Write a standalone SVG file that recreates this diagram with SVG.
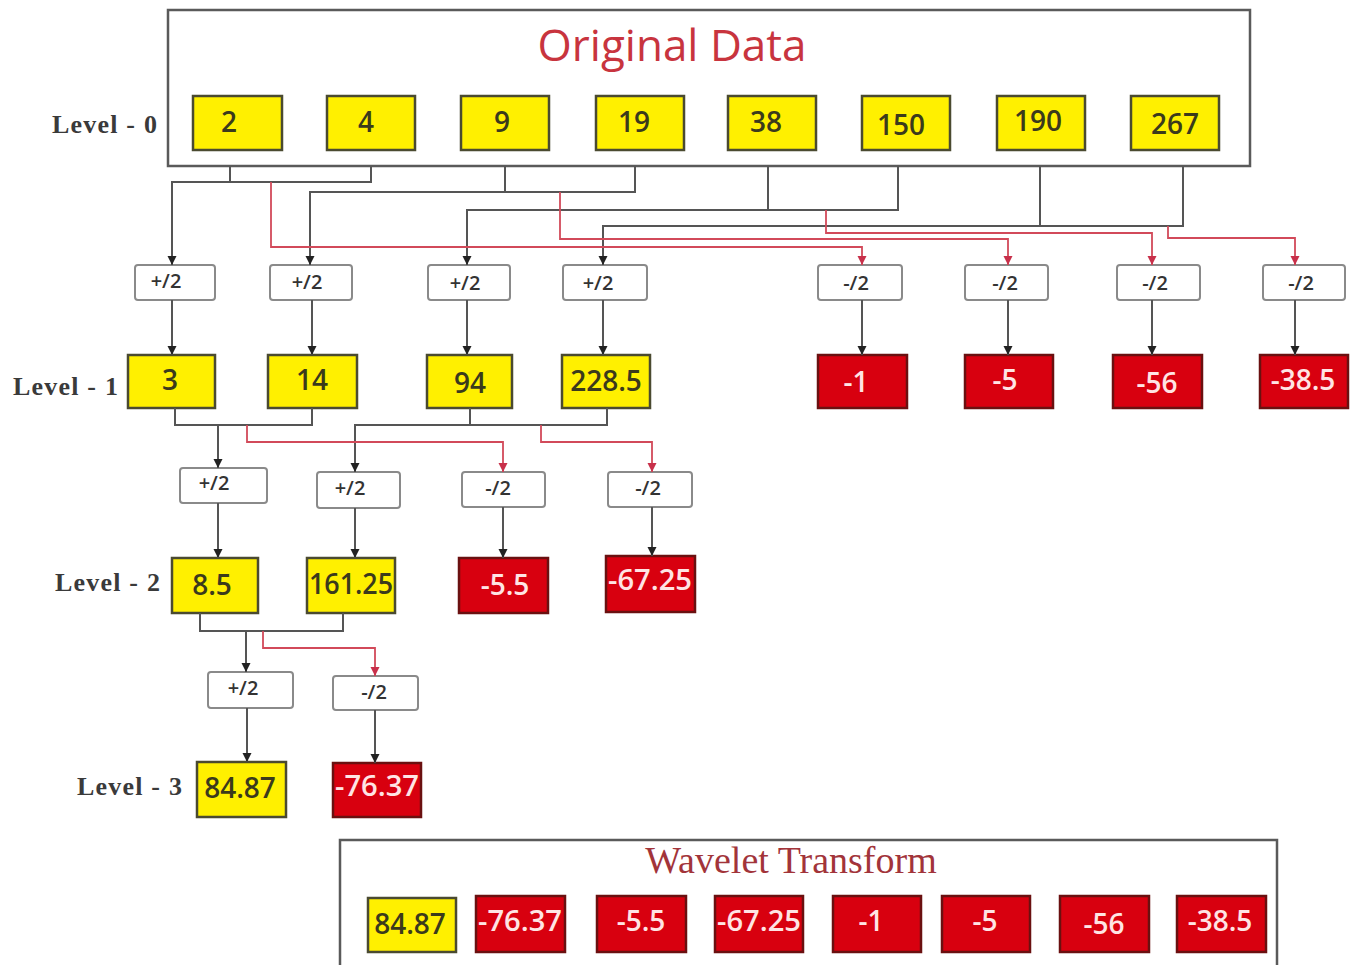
<svg xmlns="http://www.w3.org/2000/svg" width="1366" height="965" viewBox="0 0 1366 965">
<style>
.frame{fill:#fff;stroke:#5a5a5a;stroke-width:2.5}
.yb{fill:#fff000;stroke:#4a4a30;stroke-width:2.5}
.rb{fill:#d8000f;stroke:#6a1010;stroke-width:2.5}
.op{fill:#fff;stroke:#8a8a8a;stroke-width:2}
.yt{font-family:"Open Sans","Liberation Sans",sans-serif;font-size:28px;font-weight:600;fill:#3b3a1c;text-anchor:middle}
.rt{font-family:"Open Sans","Liberation Sans",sans-serif;font-size:28px;font-weight:600;fill:#ffe4e4;text-anchor:middle}
.ot{font-family:"Open Sans","Liberation Sans",sans-serif;font-size:20px;font-weight:600;fill:#333;text-anchor:middle}
.lv{font-family:"Liberation Serif",serif;font-size:26px;font-weight:bold;letter-spacing:1.2px;fill:#3a3a3a}
.ln{fill:none;stroke:#555;stroke-width:2}
.rl{fill:none;stroke:#d24a5a;stroke-width:1.8}
</style>
<defs>
<marker id="ab" viewBox="0 0 10 10" refX="10" refY="5" markerWidth="9" markerHeight="10" markerUnits="userSpaceOnUse" orient="auto"><path d="M0,0 L10,5 L0,10 z" fill="#222"/></marker>
<marker id="ar" viewBox="0 0 10 10" refX="10" refY="5" markerWidth="9" markerHeight="10" markerUnits="userSpaceOnUse" orient="auto"><path d="M0,0 L10,5 L0,10 z" fill="#c8304a"/></marker>
</defs>
<rect width="1366" height="965" fill="#fff"/>

<g id="original-data">
<rect class="frame" x="168" y="10" width="1082" height="156"/>
<text x="672" y="61" font-family="'Open Sans','Liberation Sans',sans-serif" font-size="44" fill="#c8343e" text-anchor="middle">Original Data</text>
</g>
<text class="lv" x="52" y="133">Level - 0</text>
<text class="lv" x="13" y="395">Level - 1</text>
<text class="lv" x="55" y="591">Level - 2</text>
<text class="lv" x="77" y="795">Level - 3</text>

<g id="l0-2"><rect class="yb" x="193" y="96" width="89" height="54"/><text class="yt" x="229" y="132">2</text></g>
<g id="l0-4"><rect class="yb" x="327" y="96" width="88" height="54"/><text class="yt" x="366" y="132">4</text></g>
<g id="l0-9"><rect class="yb" x="461" y="96" width="88" height="54"/><text class="yt" x="502" y="132">9</text></g>
<g id="l0-19"><rect class="yb" x="596" y="96" width="88" height="54"/><text class="yt" x="634" y="132">19</text></g>
<g id="l0-38"><rect class="yb" x="728" y="96" width="88" height="54"/><text class="yt" x="766" y="132">38</text></g>
<g id="l0-150"><rect class="yb" x="862" y="96" width="88" height="54"/><text class="yt" x="901" y="135">150</text></g>
<g id="l0-190"><rect class="yb" x="997" y="96" width="88" height="54"/><text class="yt" x="1038" y="131">190</text></g>
<g id="l0-267"><rect class="yb" x="1131" y="96" width="88" height="54"/><text class="yt" x="1175" y="134">267</text></g>

<g id="op1-a"><rect class="op" x="135" y="265" width="80" height="35" rx="3"/><text class="ot" x="166" y="288">+/2</text></g>
<g id="op1-b"><rect class="op" x="270" y="265" width="82" height="35" rx="3"/><text class="ot" x="307" y="289">+/2</text></g>
<g id="op1-c"><rect class="op" x="428" y="265" width="82" height="35" rx="3"/><text class="ot" x="465" y="290">+/2</text></g>
<g id="op1-d"><rect class="op" x="563" y="265" width="84" height="35" rx="3"/><text class="ot" x="598" y="290">+/2</text></g>
<g id="op1-e"><rect class="op" x="818" y="265" width="84" height="35" rx="3"/><text class="ot" x="856" y="290">-/2</text></g>
<g id="op1-f"><rect class="op" x="965" y="265" width="83" height="35" rx="3"/><text class="ot" x="1005" y="290">-/2</text></g>
<g id="op1-g"><rect class="op" x="1117" y="265" width="83" height="35" rx="3"/><text class="ot" x="1155" y="290">-/2</text></g>
<g id="op1-h"><rect class="op" x="1263" y="265" width="82" height="35" rx="3"/><text class="ot" x="1301" y="290">-/2</text></g>

<g id="l1-3"><rect class="yb" x="128" y="355" width="87" height="53"/><text class="yt" x="170" y="390">3</text></g>
<g id="l1-14"><rect class="yb" x="268" y="355" width="89" height="53"/><text class="yt" x="312" y="390">14</text></g>
<g id="l1-94"><rect class="yb" x="427" y="355" width="85" height="53"/><text class="yt" x="470" y="393">94</text></g>
<g id="l1-228"><rect class="yb" x="562" y="355" width="88" height="53"/><text class="yt" x="606" y="391">228.5</text></g>
<g id="l1-m1"><rect class="rb" x="818" y="355" width="89" height="53"/><text class="rt" x="856" y="392">-1</text></g>
<g id="l1-m5"><rect class="rb" x="965" y="355" width="88" height="53"/><text class="rt" x="1005" y="390">-5</text></g>
<g id="l1-m56"><rect class="rb" x="1113" y="355" width="89" height="53"/><text class="rt" x="1157" y="393">-56</text></g>
<g id="l1-m385"><rect class="rb" x="1260" y="355" width="88" height="53"/><text class="rt" x="1303" y="390">-38.5</text></g>

<g id="op2-a"><rect class="op" x="180" y="468" width="87" height="35" rx="3"/><text class="ot" x="214" y="490">+/2</text></g>
<g id="op2-b"><rect class="op" x="317" y="472" width="83" height="36" rx="3"/><text class="ot" x="350" y="495">+/2</text></g>
<g id="op2-c"><rect class="op" x="462" y="472" width="83" height="35" rx="3"/><text class="ot" x="498" y="495">-/2</text></g>
<g id="op2-d"><rect class="op" x="608" y="472" width="84" height="35" rx="3"/><text class="ot" x="648" y="495">-/2</text></g>

<g id="l2-85"><rect class="yb" x="172" y="558" width="86" height="55"/><text class="yt" x="212" y="595">8.5</text></g>
<g id="l2-16125"><rect class="yb" x="307" y="558" width="88" height="55"/><text class="yt" x="351" y="594" textLength="84" lengthAdjust="spacingAndGlyphs">161.25</text></g>
<g id="l2-m55"><rect class="rb" x="459" y="558" width="89" height="55"/><text class="rt" x="505" y="595">-5.5</text></g>
<g id="l2-m6725"><rect class="rb" x="606" y="556" width="89" height="56"/><text class="rt" x="650" y="590" textLength="84" lengthAdjust="spacingAndGlyphs">-67.25</text></g>

<g id="op3-a"><rect class="op" x="208" y="672" width="85" height="36" rx="3"/><text class="ot" x="243" y="695">+/2</text></g>
<g id="op3-b"><rect class="op" x="333" y="676" width="85" height="34" rx="3"/><text class="ot" x="374" y="699">-/2</text></g>

<g id="l3-8487"><rect class="yb" x="197" y="762" width="89" height="55"/><text class="yt" x="240" y="798">84.87</text></g>
<g id="l3-m7637"><rect class="rb" x="333" y="763" width="88" height="54"/><text class="rt" x="377" y="796" textLength="84" lengthAdjust="spacingAndGlyphs">-76.37</text></g>

<g id="wavelet">
<rect class="frame" x="340" y="840" width="937" height="140"/>
<text x="791" y="873" font-family="'Liberation Serif',serif" font-size="38" fill="#a2343a" text-anchor="middle">Wavelet Transform</text>
</g>
<g id="w1"><rect class="yb" x="368" y="898" width="88" height="54"/><text class="yt" x="410" y="934">84.87</text></g>
<g id="w2"><rect class="rb" x="476" y="896" width="89" height="56"/><text class="rt" x="520" y="931" textLength="84" lengthAdjust="spacingAndGlyphs">-76.37</text></g>
<g id="w3"><rect class="rb" x="597" y="896" width="89" height="56"/><text class="rt" x="641" y="931">-5.5</text></g>
<g id="w4"><rect class="rb" x="715" y="896" width="88" height="56"/><text class="rt" x="759" y="931" textLength="84" lengthAdjust="spacingAndGlyphs">-67.25</text></g>
<g id="w5"><rect class="rb" x="833" y="896" width="88" height="56"/><text class="rt" x="871" y="931">-1</text></g>
<g id="w6"><rect class="rb" x="942" y="896" width="88" height="56"/><text class="rt" x="985" y="931">-5</text></g>
<g id="w7"><rect class="rb" x="1060" y="896" width="89" height="56"/><text class="rt" x="1104" y="934">-56</text></g>
<g id="w8"><rect class="rb" x="1177" y="896" width="89" height="56"/><text class="rt" x="1220" y="931">-38.5</text></g>

<g id="connectors">
<path class="ln" d="M230,166 V182 M371,166 V182 H172 V265" marker-end="url(#ab)"/>
<path class="ln" d="M505,166 V192 M635,166 V192 H310 V265" marker-end="url(#ab)"/>
<path class="ln" d="M768,166 V210 M898,166 V210 H467 V265" marker-end="url(#ab)"/>
<path class="ln" d="M1040,166 V226 M1183,166 V226 H603 V265" marker-end="url(#ab)"/>
<path class="rl" d="M271,182 V247 H862 V265" marker-end="url(#ar)"/>
<path class="rl" d="M560,192 V239 H1008 V265" marker-end="url(#ar)"/>
<path class="rl" d="M826,210 V233 H1152 V265" marker-end="url(#ar)"/>
<path class="rl" d="M1168,226 V238 H1295 V265" marker-end="url(#ar)"/>
<path class="ln" d="M172,300 V355" marker-end="url(#ab)"/>
<path class="ln" d="M312,300 V355" marker-end="url(#ab)"/>
<path class="ln" d="M467,300 V355" marker-end="url(#ab)"/>
<path class="ln" d="M603,300 V355" marker-end="url(#ab)"/>
<path class="ln" d="M862,300 V355" marker-end="url(#ab)"/>
<path class="ln" d="M1008,300 V355" marker-end="url(#ab)"/>
<path class="ln" d="M1152,300 V355" marker-end="url(#ab)"/>
<path class="ln" d="M1295,300 V355" marker-end="url(#ab)"/>
<path class="ln" d="M175,408 V425 H312 V408 M218,425 V468" marker-end="url(#ab)"/>
<path class="ln" d="M470,408 V425 M607,408 V425 H355 V472" marker-end="url(#ab)"/>
<path class="rl" d="M247,425 V442 H503 V472" marker-end="url(#ar)"/>
<path class="rl" d="M541,425 V442 H652 V472" marker-end="url(#ar)"/>
<path class="ln" d="M218,503 V558" marker-end="url(#ab)"/>
<path class="ln" d="M355,508 V558" marker-end="url(#ab)"/>
<path class="ln" d="M503,507 V558" marker-end="url(#ab)"/>
<path class="ln" d="M652,507 V556" marker-end="url(#ab)"/>
<path class="ln" d="M200,613 V631 H343 V613 M246,631 V672" marker-end="url(#ab)"/>
<path class="rl" d="M263,631 V648 H375 V676" marker-end="url(#ar)"/>
<path class="ln" d="M247,708 V762" marker-end="url(#ab)"/>
<path class="ln" d="M375,710 V763" marker-end="url(#ab)"/>
</g>
</svg>
